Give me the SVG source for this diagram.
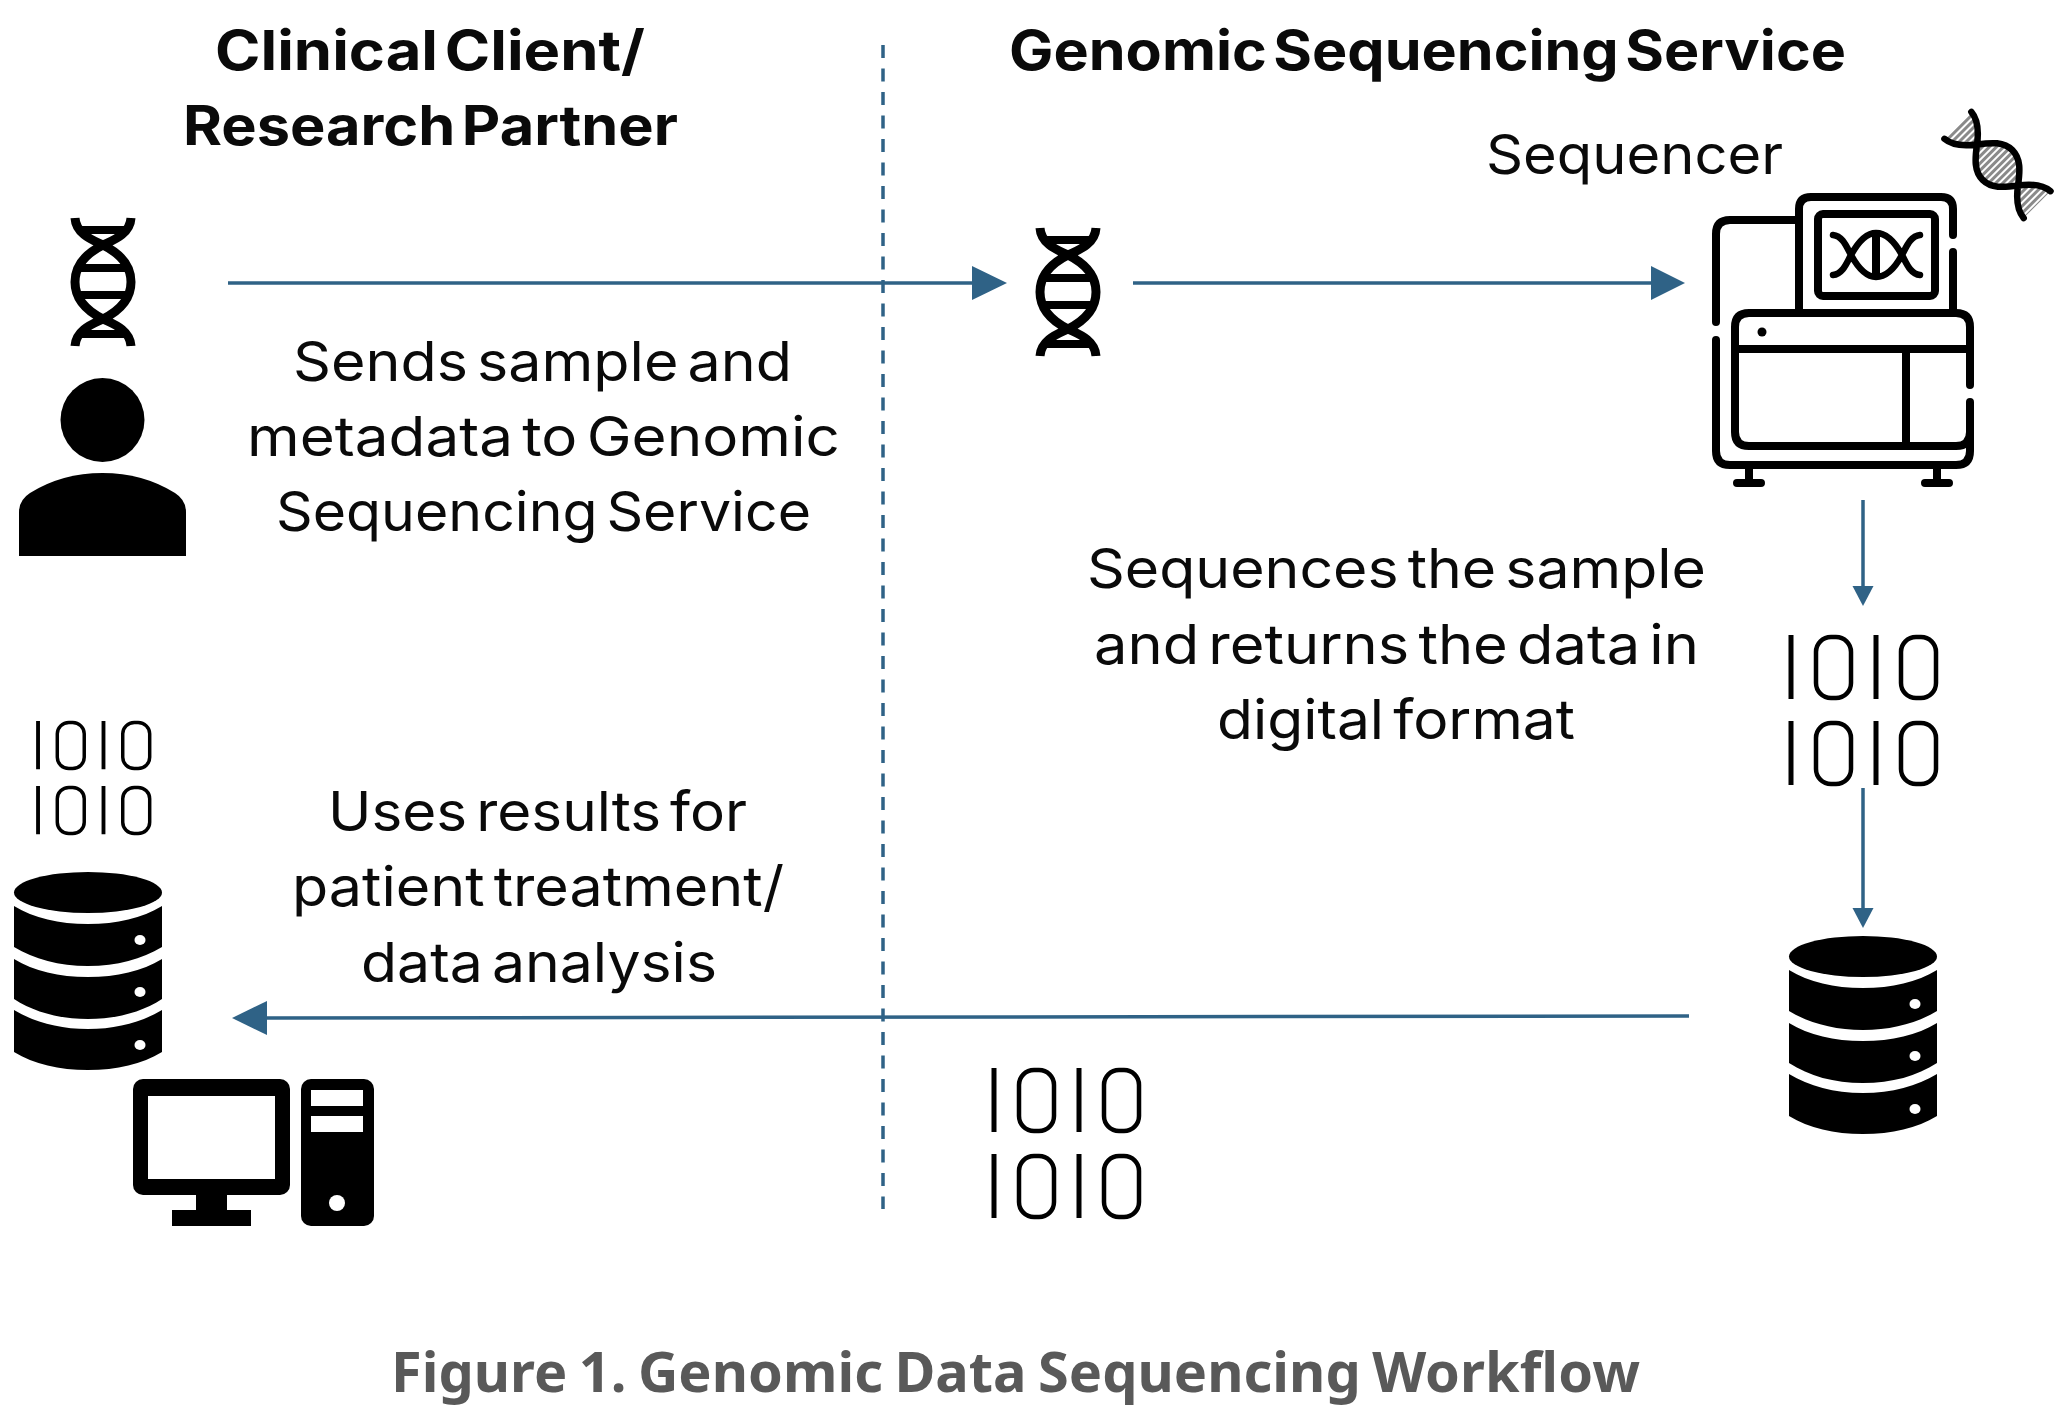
<svg xmlns="http://www.w3.org/2000/svg" width="2064" height="1412" viewBox="0 0 2064 1412">
<style>
text{font-family:Inter,"Noto Sans","Liberation Sans",sans-serif;fill:#0a0a0a;text-anchor:start}
.b{font-size:55px;font-weight:700;word-spacing:-7px}
.t{font-size:55px;font-weight:400;word-spacing:-7px}
.cap{font-family:"Noto Sans","Liberation Sans",sans-serif;font-size:55px;font-weight:700;fill:#595959;word-spacing:-3px}
.ln{fill:none;stroke:#2f6286;stroke-width:3.5}
.hd{fill:#2f6286}
.seq{fill:none;stroke:#000;stroke-width:8;stroke-linecap:round;stroke-linejoin:round}
.bin{fill:none;stroke:#000;stroke-width:4.5}
</style>
<defs>
<pattern id="hatch" width="5" height="5" patternUnits="userSpaceOnUse">
<rect width="5" height="5" fill="#fff"/><rect width="5" height="3" fill="#8a8a8a"/>
</pattern>
<g id="dna">
<path d="M4,0C5,17 24,23 32,27C46,34 60,45 60,64C60,83 46,94 32,101C24,105 5,111 4,128M60,0C59,17 40,23 32,27C18,34 4,45 4,64C4,83 18,94 32,101C40,105 59,111 60,128" fill="none" stroke="#000" stroke-width="9"/>
<path d="M6,12H58M9,50H55M9,77H55M6,116H58" fill="none" stroke="#000" stroke-width="8"/>
</g>
<g id="bits" class="bin">
<path d="M2,0V64M87,0V64M2,86V150M87,86V150" stroke-width="5"/>
<rect x="27" y="2" width="35" height="61" rx="15"/>
<rect x="112" y="2" width="35" height="61" rx="15"/>
<rect x="27" y="88" width="35" height="61" rx="15"/>
<rect x="112" y="88" width="35" height="61" rx="15"/>
</g>
<g id="db">
<ellipse cx="74" cy="20.5" rx="74" ry="20.5"/>
<path d="M0,34C20,46 45,52 74,52S128,46 148,34V75C128,87 103,94 74,94S20,87 0,75Z"/>
<path d="M0,87C20,99 45,105 74,105S128,99 148,87V127C128,140 103,147 74,147S20,140 0,127Z"/>
<path d="M0,138C20,150 45,157 74,157S128,150 148,138V180C128,192 103,198 74,198S20,192 0,180Z"/>
<ellipse cx="126" cy="68" rx="5.5" ry="5" fill="#fff"/>
<ellipse cx="126" cy="120" rx="5.5" ry="5" fill="#fff"/>
<ellipse cx="126" cy="173" rx="5.5" ry="5" fill="#fff"/>
</g>
</defs>
<rect width="2064" height="1412" fill="#fff"/>
<g id="connectors">
<path class="ln" d="M883,45V1209" stroke-dasharray="13 10.5"/>
<path class="ln" d="M228,283H975"/><path class="hd" d="M972,266L1007,283L972,300Z"/>
<path class="ln" d="M1133,283H1654"/><path class="hd" d="M1651,266L1685,283L1651,300Z"/>
<path class="ln" d="M1863,500V590"/><path class="hd" d="M1852.500,586H1873.500L1863,606Z"/>
<path class="ln" d="M1863,788V910"/><path class="hd" d="M1852.500,908H1873.500L1863,928Z"/>
<path class="ln" d="M1689,1016L265,1018"/><path class="hd" d="M267,1001V1035L232,1018Z"/>
</g>
<g id="client-heading">
<text class="b" x="215" y="70" textLength="430" lengthAdjust="spacingAndGlyphs">Clinical Client/</text>
<text class="b" x="183" y="145" textLength="495" lengthAdjust="spacingAndGlyphs">Research Partner</text>
</g>
<g id="service-heading"><text class="b" x="1009" y="70" textLength="837" lengthAdjust="spacingAndGlyphs">Genomic Sequencing Service</text></g>
<g id="client-dna"><use href="#dna" x="71" y="218"/></g>
<g id="person"><circle cx="102.500" cy="420" r="42"/><path d="M19,556V512Q19,500 30,493Q62,473 102.500,473Q143,473 175,493Q186,500 186,512V556Z"/></g>
<g id="send-label">
<text class="t" x="293" y="381" textLength="499" lengthAdjust="spacingAndGlyphs">Sends sample and</text>
<text class="t" x="247" y="456" textLength="593" lengthAdjust="spacingAndGlyphs">metadata to Genomic</text>
<text class="t" x="276" y="531" textLength="535" lengthAdjust="spacingAndGlyphs">Sequencing Service</text>
</g>
<g id="service-dna"><use href="#dna" x="1036" y="228"/></g>
<g id="sequencer">
<text class="t" x="1486" y="174" textLength="297" lengthAdjust="spacingAndGlyphs">Sequencer</text>
<path class="seq" d="M1799,310V209Q1799,197 1811,197H1941Q1953,197 1953,209V235M1953,252V310"/>
<rect class="seq" x="1818" y="214" width="117" height="82" rx="5"/>
<path class="seq" d="M1799,220H1730Q1716,220 1716,234V322M1716,340V451Q1716,465 1730,465H1956Q1970,465 1970,451V402M1970,385V327Q1970,313 1956,313H1749Q1735,313 1735,327V432Q1735,446 1749,446H1956Q1970,446 1970,432"/>
<path class="seq" d="M1735,349H1970M1906,349V446M1749,465V483M1737,483H1761M1937,465V483M1925,483H1949"/>
<circle cx="1762" cy="332" r="4.500"/>
<path d="M1833,235C1843,236 1847,248 1851,255C1857,266 1865,277 1876,277C1888,277 1896,266 1902,255C1906,248 1910,236 1920,235M1833,275C1843,274 1847,262 1851,255C1857,244 1865,233 1876,233C1888,233 1896,244 1902,255C1906,262 1910,274 1920,275" fill="none" stroke="#000" stroke-width="6.500" stroke-linecap="round"/>
<path d="M1876,233V277" stroke="#000" stroke-width="8"/>
<g transform="translate(1997.500 165) rotate(-45)">
<path d="M0,-29C-12,-20 -21,-12 -21,0C-21,12 -12,20 0,29C12,20 21,12 21,0C21,-12 12,-20 0,-29ZM19,-56C18,-44 8,-35 0,-29C-8,-35 -18,-44 -19,-56ZM-19,56C-18,44 -8,35 0,29C8,35 18,44 19,56Z" fill="url(#hatch)"/>
<path d="M19,-56C18,-44 8,-35 0,-29C-12,-20 -21,-12 -21,0C-21,12 -12,20 0,29C8,35 18,44 19,56M-19,-56C-18,-44 -8,-35 0,-29C12,-20 21,-12 21,0C21,12 12,20 0,29C-8,35 -18,44 -19,56" fill="none" stroke="#000" stroke-width="6.500" stroke-linecap="round"/>
</g>
</g>
<g id="sequence-label">
<text class="t" x="1087" y="588" textLength="619" lengthAdjust="spacingAndGlyphs">Sequences the sample</text>
<text class="t" x="1094" y="664" textLength="605" lengthAdjust="spacingAndGlyphs">and returns the data in</text>
<text class="t" x="1217" y="739" textLength="358" lengthAdjust="spacingAndGlyphs">digital format</text>
</g>
<g id="service-bits"><use href="#bits" x="1789" y="635"/></g>
<g id="service-db"><use href="#db" x="1789" y="936"/></g>
<g id="client-bits"><use href="#bits" transform="translate(36.500 721) scale(.77 .755)"/></g>
<g id="client-db"><use href="#db" x="14" y="872"/></g>
<g id="transfer-bits"><use href="#bits" x="992" y="1068"/></g>
<g id="use-label">
<text class="t" x="328" y="831" textLength="419" lengthAdjust="spacingAndGlyphs">Uses results for</text>
<text class="t" x="292" y="906" textLength="492" lengthAdjust="spacingAndGlyphs">patient treatment/</text>
<text class="t" x="361" y="982" textLength="356" lengthAdjust="spacingAndGlyphs">data analysis</text>
</g>
<g id="computer">
<rect x="133" y="1079" width="157" height="116" rx="10"/>
<rect x="148" y="1096" width="127" height="83" fill="#fff"/>
<rect x="196" y="1195" width="31" height="15"/>
<rect x="172" y="1210" width="79" height="16"/>
<rect x="301" y="1079" width="73" height="147" rx="10"/>
<rect x="311" y="1090" width="52" height="16" fill="#fff"/>
<rect x="311" y="1116" width="52" height="16" fill="#fff"/>
<circle cx="337" cy="1203" r="8" fill="#fff"/>
</g>
<g id="caption"><text class="cap" x="391" y="1392" textLength="1249" lengthAdjust="spacingAndGlyphs">Figure 1. Genomic Data Sequencing Workflow</text></g>
</svg>
